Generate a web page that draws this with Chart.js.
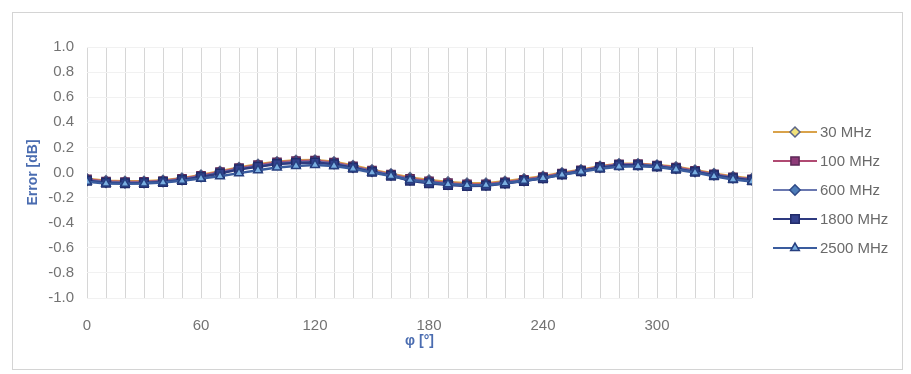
<!DOCTYPE html>
<html>
<head>
<meta charset="utf-8">
<script src="https://cdn.jsdelivr.net/npm/chart.js@4/dist/chart.umd.min.js"></script>
<style>
  body { margin: 0; background: #fff; width: 911px; height: 374px; position: relative; overflow: hidden; font-family: "Liberation Sans", Arial, sans-serif; }
  #frame { position: absolute; left: 12px; top: 12px; width: 889px; height: 356px; border: 1px solid #d4d4d4; }
  #frame canvas { display: block; }
  #legend { position: absolute; left: 773px; top: 117px; }
  .row { height: 29px; display: flex; align-items: center; color: #6a6a6a; font-size: 15px; }
  .row canvas { margin-right: 3px; }
</style>
</head>
<body>
<div id="frame"><canvas id="chart" width="889" height="356"></canvas></div>
<div id="legend"></div>
<script>
// phi angles [deg]
const angles = [0, 10, 20, 30, 40, 50, 60, 70, 80, 90, 100, 110, 120, 130, 140, 150, 160, 170,
                180, 190, 200, 210, 220, 230, 240, 250, 260, 270, 280, 290, 300, 310, 320, 330, 340, 350];

// error [dB] per frequency
const err30 = [-0.050, -0.065, -0.070, -0.070, -0.062, -0.045, -0.020, 0.010, 0.040, 0.065, 0.085, 0.098,
               0.100, 0.085, 0.055, 0.022, -0.010, -0.040, -0.060, -0.075, -0.085, -0.085, -0.070, -0.050,
               -0.030, -0.002, 0.022, 0.050, 0.070, 0.070, 0.060, 0.045, 0.020, -0.008, -0.032, -0.048];
const err100 = [-0.055, -0.072, -0.076, -0.075, -0.068, -0.050, -0.026, 0.004, 0.035, 0.058, 0.080, 0.090,
                0.094, 0.078, 0.048, 0.015, -0.016, -0.050, -0.070, -0.085, -0.095, -0.094, -0.078, -0.058,
                -0.036, -0.008, 0.017, 0.045, 0.065, 0.066, 0.055, 0.039, 0.014, -0.014, -0.038, -0.054];
const err600 = [-0.062, -0.078, -0.081, -0.080, -0.072, -0.056, -0.032, -0.003, 0.028, 0.050, 0.072, 0.082,
                0.086, 0.071, 0.042, 0.010, -0.020, -0.058, -0.078, -0.093, -0.101, -0.099, -0.083, -0.063,
                -0.041, -0.012, 0.013, 0.041, 0.061, 0.061, 0.051, 0.034, 0.009, -0.018, -0.042, -0.058];
const err1800 = [-0.066, -0.082, -0.085, -0.084, -0.076, -0.060, -0.036, -0.008, 0.025, 0.046, 0.068, 0.076,
                 0.080, 0.066, 0.038, 0.005, -0.025, -0.065, -0.085, -0.100, -0.108, -0.105, -0.088, -0.068,
                 -0.045, -0.016, 0.010, 0.038, 0.058, 0.058, 0.048, 0.030, 0.005, -0.022, -0.045, -0.062];
const err2500 = [-0.074, -0.088, -0.090, -0.088, -0.080, -0.066, -0.048, -0.030, -0.005, 0.018, 0.040, 0.052,
                 0.060, 0.052, 0.030, 0.000, -0.028, -0.060, -0.078, -0.094, -0.102, -0.100, -0.085, -0.066,
                 -0.045, -0.018, 0.006, 0.030, 0.046, 0.050, 0.044, 0.024, 0.000, -0.030, -0.055, -0.072];

const yTicks = [-1.0, -0.8, -0.6, -0.4, -0.2, 0.0, 0.2, 0.4, 0.6, 0.8, 1.0];
const xTickLabels = [0, 60, 120, 180, 240, 300];

const seriesNames = ['30 MHz', '100 MHz', '600 MHz', '1800 MHz', '2500 MHz'];
const seriesData = [err30, err100, err600, err1800, err2500];
const styles = [
    { line: '#d9a24a', fill: '#f2e27a', edge: '#5a6488', point: 'rectRot', r: 5 },
    { line: '#b04a72', fill: '#8e3a78', edge: '#5e2a58', point: 'rect', r: 5.8 },
    { line: '#6a78b0', fill: '#4d7cb8', edge: '#2f4a88', point: 'rectRot', r: 5.2 },
    { line: '#2e3a80', fill: '#34428e', edge: '#222c6a', point: 'rect', r: 6 },
    { line: '#3a5c9e', fill: '#79aee0', edge: '#263f80', point: 'triangle', r: 5 }
];

const datasets = seriesNames.map((name, i) => ({
    label: name,
    data: angles.map((a, k) => ({ x: a, y: seriesData[i][k] })),
    borderColor: styles[i].line,
    borderWidth: 2.5,
    pointStyle: styles[i].point,
    pointRadius: styles[i].r,
    pointBackgroundColor: styles[i].fill,
    pointBorderColor: styles[i].edge,
    pointBorderWidth: 1.5,
    order: seriesNames.length - i,
    tension: 0
}));

const blue = '#4a6cb0';

new Chart(document.getElementById('chart'), {
    type: 'line',
    data: { datasets },
    options: {
        responsive: false,
        animation: false,
        layout: { padding: { top: 34, right: 150, left: 0, bottom: 0 } },
        plugins: { legend: { display: false }, tooltip: { enabled: false } },
        scales: {
            x: {
                type: 'linear',
                min: 0,
                max: 350,
                afterBuildTicks: s => { s.ticks = angles.map(v => ({ value: v })); },
                afterFit: s => { s.height = 71; },
                grid: { color: '#d6d6d6', lineWidth: 1, drawTicks: false },
                border: { display: false },
                ticks: {
                    padding: 19,
                    color: '#737373',
                    font: { size: 15, family: 'Liberation Sans' },
                    maxRotation: 0,
                    autoSkip: false,
                    callback: v => xTickLabels.includes(v) ? String(v) : ''
                },
                title: {
                    display: true,
                    text: 'φ [°]',
                    color: blue,
                    font: { size: 14, weight: 'bold', family: 'Liberation Sans' },
                    padding: { top: 0, bottom: 19 }
                }
            },
            y: {
                min: -1,
                max: 1,
                afterBuildTicks: s => { s.ticks = yTicks.map(v => ({ value: v })); },
                afterFit: s => { s.width = 74; },
                grid: { color: '#f1f1f1', lineWidth: 1, drawTicks: false },
                border: { display: false },
                ticks: {
                    padding: 13,
                    color: '#737373',
                    font: { size: 15, family: 'Liberation Sans' },
                    callback: v => v.toFixed(1)
                },
                title: {
                    display: true,
                    text: 'Error [dB]',
                    color: blue,
                    font: { size: 14, weight: 'bold', family: 'Liberation Sans' },
                    padding: { top: 12, bottom: 0 }
                }
            }
        }
    }
});

// legend with line + marker icons
const legend = document.getElementById('legend');
seriesNames.forEach((name, i) => {
    const row = document.createElement('div');
    row.className = 'row';
    const icon = document.createElement('canvas');
    icon.width = 44;
    icon.height = 16;
    const ctx = icon.getContext('2d');
    ctx.strokeStyle = styles[i].line;
    ctx.lineWidth = 2;
    ctx.beginPath();
    ctx.moveTo(0, 8);
    ctx.lineTo(44, 8);
    ctx.stroke();
    ctx.fillStyle = styles[i].fill;
    ctx.strokeStyle = styles[i].edge;
    ctx.lineWidth = 1.5;
    Chart.helpers.drawPoint(ctx, { pointStyle: styles[i].point, radius: styles[i].r, borderWidth: 1.5, rotation: 0 }, 22, 8);
    row.appendChild(icon);
    const label = document.createElement('span');
    label.textContent = name;
    row.appendChild(label);
    legend.appendChild(row);
});
</script>
</body>
</html>
